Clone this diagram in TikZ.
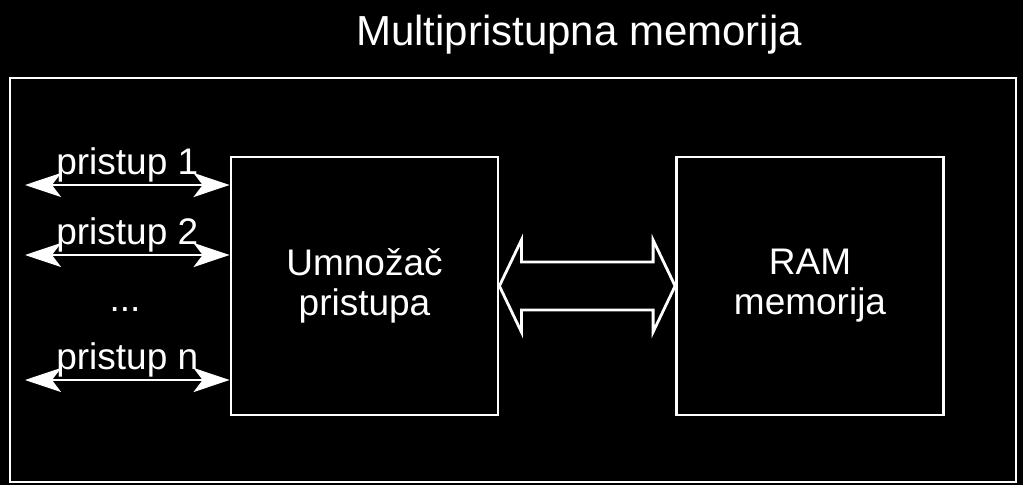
\documentclass[tikz,border=0pt]{standalone}
\usepackage{fontspec}
\setmainfont{Liberation Sans}
\usetikzlibrary{arrows.meta, calc}

\tikzset{
    x=1pt, y=-1pt,
    every node/.style={text=white, inner sep=0pt},
    frame/.style={draw=white, line width=2.8pt},
    unit/.style={frame, minimum width=267pt, minimum height=258pt, align=center,
        font=\fontsize{37}{40}\selectfont},
    port/.style={draw=white, line width=2.8pt, {Stealth[length=36pt, width=24pt, inset=9pt]}-{Stealth[length=36pt, width=24pt, inset=9pt]}},
    portlabel/.style={above, inner sep=1pt, font=\fontsize{37}{40}\selectfont},
    bus/.style={draw=white, line width=2.8pt, line join=miter},
}

\begin{document}
\begin{tikzpicture}
    \fill[black] (0,0) rectangle (1023,485);
    \useasboundingbox (0,0) rectangle (1023,485);

    \node [frame, minimum width=1006pt, minimum height=404pt] (memory) at (513,280) {};
    \node [font=\fontsize{42}{46}\selectfont] (title) at (579,35) {Multipristupna memorija};

    \node [unit] (umnozac) at (364.5,286) {Umnožač\\pristupa};
    \node [unit] (ram) at (810,286) {RAM\\memorija};

    % pristupi
    \coordinate (p1) at (25,185);
    \coordinate (p2) at (25,255);
    \coordinate (pn) at (25,380);
    \draw [port] (p1) -- (p1 -| umnozac.west) node [portlabel, midway] {pristup 1};
    \draw [port] (p2) -- (p2 -| umnozac.west) node [portlabel, midway] {pristup 2};
    \draw [port] (pn) -- (pn -| umnozac.west) node [portlabel, midway] {pristup n};
    \node [font=\fontsize{37}{40}\selectfont] (dots) at (125,310) {...};

    % sabirnica
    \draw [bus] (umnozac.east) -- ++(22,-46) -- ++(0,22)
        -- ($(ram.west)+(-22,-24)$) -- ++(0,-22) -- (ram.west)
        -- ++(-22,46) -- ++(0,-22)
        -- ($(umnozac.east)+(22,24)$) -- ++(0,22) -- cycle;
\end{tikzpicture}
\end{document}
